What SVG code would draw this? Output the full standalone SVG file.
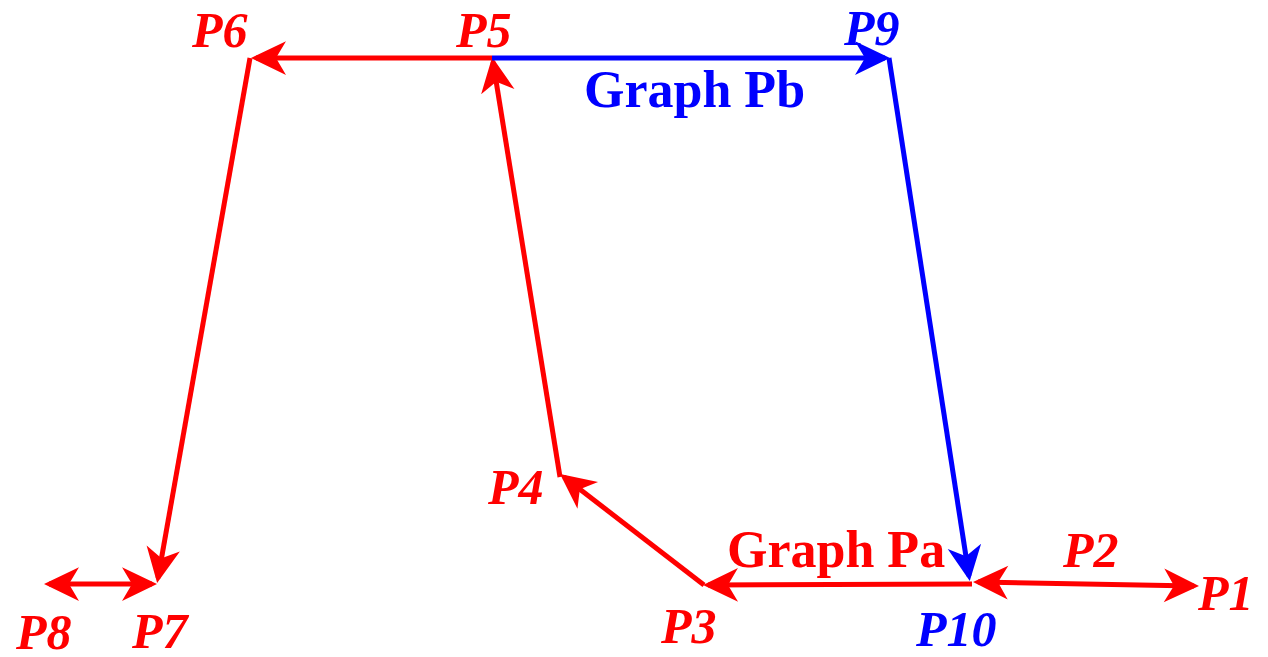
<svg xmlns="http://www.w3.org/2000/svg" width="1268" height="657" viewBox="0 0 1268 657">
<style>
.r{stroke:#ff0000;stroke-width:5;fill:none}
.b{stroke:#0000ff;stroke-width:5;fill:none}
.lab{font-family:"Liberation Serif",serif;font-weight:bold;font-style:italic;font-size:50px}
.ttl{font-family:"Liberation Serif",serif;font-weight:bold;font-size:52px}
.red{fill:#ff0000}
.blue{fill:#0000ff}
</style>
<defs>
<marker id="ar" markerUnits="userSpaceOnUse" markerWidth="40" markerHeight="40" viewBox="-30 -15 32 30" refX="-4" refY="0" orient="auto-start-reverse">
<path d="M0,0 L-28,-13.5 L-20,0 L-28,13.5 Z" fill="#ff0000"/>
</marker>
<marker id="ab" markerUnits="userSpaceOnUse" markerWidth="40" markerHeight="40" viewBox="-30 -15 32 30" refX="-4" refY="0" orient="auto-start-reverse">
<path d="M0,0 L-28,-13.5 L-20,0 L-28,13.5 Z" fill="#0000ff"/>
</marker>
</defs>
<g id="connectors">
<path class="r" d="M978,582 L1194,586" marker-start="url(#ar)" marker-end="url(#ar)"/>
<path class="r" d="M972,584 L708,585" marker-end="url(#ar)"/>
<path class="r" d="M704,585 L564,477" marker-end="url(#ar)"/>
<path class="r" d="M560,477 L493,62" marker-end="url(#ar)"/>
<path class="r" d="M492,58 L256,58" marker-end="url(#ar)"/>
<path class="r" d="M250,58 L158,578" marker-end="url(#ar)"/>
<path class="r" d="M49,584 L152,584" marker-start="url(#ar)" marker-end="url(#ar)"/>
<path class="b" d="M492,58 L885,58" marker-end="url(#ab)"/>
<path class="b" d="M889,58 L969,576" marker-end="url(#ab)"/>
</g>
<g id="P1"><text class="lab red" x="1198" y="610">P1</text></g>
<g id="P2"><text class="lab red" x="1063" y="567">P2</text></g>
<g id="P3"><text class="lab red" x="661" y="643">P3</text></g>
<g id="P4"><text class="lab red" x="488" y="504">P4</text></g>
<g id="P5"><text class="lab red" x="456" y="47">P5</text></g>
<g id="P6"><text class="lab red" x="192" y="47">P6</text></g>
<g id="P7"><text class="lab red" x="132" y="648">P7</text></g>
<g id="P8"><text class="lab red" x="16" y="649">P8</text></g>
<g id="P9"><text class="lab blue" x="844" y="45">P9</text></g>
<g id="P10"><text class="lab blue" x="916" y="646">P10</text></g>
<g id="GraphPa"><text class="ttl red" x="727" y="567">Graph Pa</text></g>
<g id="GraphPb"><text class="ttl blue" x="584" y="107">Graph Pb</text></g>
</svg>
